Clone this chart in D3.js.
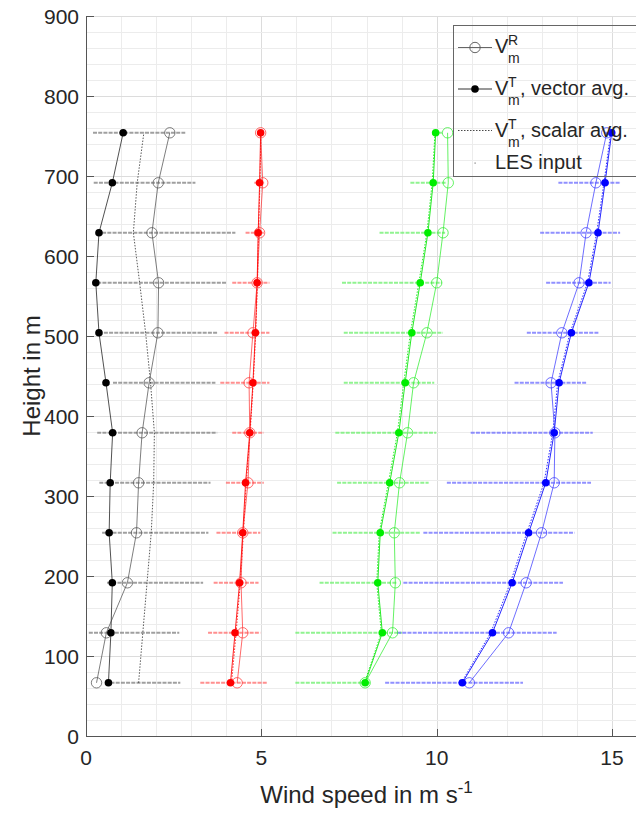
<!DOCTYPE html>
<html><head><meta charset="utf-8">
<script src="https://cdn.jsdelivr.net/npm/d3@7"></script>
<style>
body{margin:0;background:#fff}
svg{display:block}
text{font-family:"Liberation Sans",Arial,Helvetica,sans-serif;fill:#262626}
</style>
</head><body><svg id="c" width="636" height="813"></svg>
<script>
// ---------------- data ----------------
const heights = [66.5,129,191.5,254,316.5,379,441.5,504,566.5,629,691.5,754];
const xTicks = [0,5,10,15];
const yTicks = [0,100,200,300,400,500,600,700,800,900];

const blackVR     = [0.30,0.58,1.18,1.44,1.50,1.60,1.80,2.05,2.07,1.88,2.06,2.39];
const blackVT     = [0.64,0.71,0.75,0.66,0.69,0.76,0.57,0.37,0.28,0.37,0.75,1.06];
const blackScalar = [1.50,1.62,1.74,1.86,1.93,1.95,1.84,1.70,1.53,1.35,1.46,1.65];
const blackLesMin = [0.55,0.08,0.60,0.46,0.38,0.32,0.77,0.51,0.32,0.46,0.22,0.20];
const blackLesMax = [2.69,2.66,3.34,3.49,3.55,3.74,3.69,3.74,4.00,4.26,3.12,2.83];

const redVR     = [4.31,4.47,4.42,4.47,4.62,4.67,4.65,4.76,4.88,4.95,5.04,4.98];
const redVT     = [4.12,4.25,4.38,4.47,4.55,4.67,4.76,4.83,4.88,4.91,4.95,4.98];
const redScalar = [4.15,4.28,4.40,4.49,4.57,4.68,4.77,4.84,4.89,4.92,4.96,4.99];
const redLesMin = [3.26,3.48,3.64,3.72,3.99,4.17,3.83,3.95,4.17,4.55,4.80,4.92];
const redLesMax = [5.16,4.97,4.92,4.97,5.07,5.07,5.23,5.23,5.23,5.07,5.10,5.03];

const greenVR     = [7.96,8.74,8.82,8.79,8.94,9.17,9.34,9.72,10.00,10.18,10.33,10.31];
const greenVT     = [7.96,8.45,8.32,8.39,8.66,8.92,9.10,9.29,9.53,9.75,9.90,9.97];
const greenScalar = [7.94,8.42,8.29,8.36,8.62,8.88,9.06,9.25,9.49,9.72,9.87,9.95];
const greenLesMin = [5.97,5.97,6.66,7.03,7.16,7.11,7.35,7.35,7.30,8.37,9.25,9.91];
const greenLesMax = [8.10,9.01,8.87,9.53,9.77,9.99,9.93,10.18,10.15,10.24,10.29,10.15];

const blueVR     = [10.93,12.05,12.55,12.99,13.35,13.37,13.26,13.57,14.06,14.26,14.54,14.85];
const blueVT     = [10.73,11.59,12.15,12.62,13.11,13.35,13.49,13.84,14.34,14.60,14.80,14.99];
const blueScalar = [10.70,11.54,12.10,12.57,13.06,13.31,13.45,13.80,14.30,14.56,14.77,14.96];
const blueLesMin = [8.53,8.87,9.05,9.62,10.29,10.97,12.22,12.57,13.12,12.95,13.47,14.80];
const blueLesMax = [12.46,13.42,13.60,13.93,14.40,14.45,14.26,14.61,14.96,15.23,15.25,15.10];

// ---------------- setup ----------------
const svg = d3.select("#c");
const x = d3.scaleLinear().domain([0,16]).range([86, 86 + 16*35.07]);
const y = d3.scaleLinear().domain([0,900]).range([736,16]);

svg.append("rect").attr("width",636).attr("height",813).attr("fill","#fff");

// grid
const gGrid = svg.append("g");
gGrid.selectAll(".vx").data(d3.range(1,17)).enter().append("line")
  .attr("x1",d=>Math.round(x(d))+0.5).attr("x2",d=>Math.round(x(d))+0.5)
  .attr("y1",y(900)).attr("y2",y(0))
  .attr("stroke",d=>d%5===0?"#dcdcdc":"#ececec").attr("stroke-width",1);
gGrid.selectAll(".hy").data(d3.range(20,901,20)).enter().append("line")
  .attr("y1",d=>Math.round(y(d))+0.5).attr("y2",d=>Math.round(y(d))+0.5)
  .attr("x1",x(0)).attr("x2",x(16))
  .attr("stroke",d=>d%100===0?"#dcdcdc":"#ececec").attr("stroke-width",1);

const groups = [
  {vr:blackVR, vt:blackVT, sc:blackScalar, lo:blackLesMin, hi:blackLesMax,
   les:"#808080", rcol:"#555", tcol:"#333", dot:"#000", scol:"#333"},
  {vr:redVR, vt:redVT, sc:redScalar, lo:redLesMin, hi:redLesMax,
   les:"#ff6a6a", rcol:"#ff3b3b", tcol:"#ff0000", dot:"#ff0000", scol:"#ff0000"},
  {vr:greenVR, vt:greenVT, sc:greenScalar, lo:greenLesMin, hi:greenLesMax,
   les:"#6cf06c", rcol:"#33ee33", tcol:"#00e600", dot:"#00ee00", scol:"#00e600"},
  {vr:blueVR, vt:blueVT, sc:blueScalar, lo:blueLesMin, hi:blueLesMax,
   les:"#6b6bff", rcol:"#4040ff", tcol:"#0000ff", dot:"#0000ff", scol:"#0000ff"}
];

const gData = svg.append("g");
// LES input
groups.forEach(g=>{
  gData.append("g").selectAll("line").data(heights).enter().append("line")
    .attr("x1",(h,i)=>x(g.lo[i])).attr("x2",(h,i)=>x(g.hi[i]))
    .attr("y1",h=>y(h)).attr("y2",h=>y(h))
    .attr("stroke",g.les).attr("stroke-width",2)
    .attr("stroke-dasharray","4,1.2").attr("opacity",0.75);
});

const line = d3.line().x(d=>x(d[0])).y(d=>y(d[1]));
groups.forEach(g=>{
  const pr = heights.map((h,i)=>[g.vr[i],h]);
  const pt = heights.map((h,i)=>[g.vt[i],h]);
  const ps = heights.map((h,i)=>[g.sc[i],h]);
  gData.append("path").attr("d",line(ps)).attr("fill","none")
    .attr("stroke",g.scol).attr("stroke-width",0.9).attr("stroke-dasharray","1.5,1.5").attr("opacity",0.9);
  gData.append("path").attr("d",line(pr)).attr("fill","none")
    .attr("stroke",g.rcol).attr("stroke-width",0.9).attr("opacity",0.85);
  gData.append("path").attr("d",line(pt)).attr("fill","none")
    .attr("stroke",g.tcol).attr("stroke-width",1).attr("opacity",0.85);
  gData.append("g").selectAll("circle").data(pr).enter().append("circle")
    .attr("cx",d=>x(d[0])).attr("cy",d=>y(d[1])).attr("r",5.2)
    .attr("fill","none").attr("stroke",g.rcol).attr("stroke-width",0.9).attr("opacity",0.85);
  gData.append("g").selectAll("circle").data(pt).enter().append("circle")
    .attr("cx",d=>x(d[0])).attr("cy",d=>y(d[1])).attr("r",3.8)
    .attr("fill",g.dot);
});

// axes
const gAx = svg.append("g");
gAx.append("line").attr("x1",86.5).attr("x2",86.5).attr("y1",y(900)).attr("y2",y(0)+0.5)
  .attr("stroke","#555").attr("stroke-width",1);
gAx.append("line").attr("x1",86).attr("x2",x(16)).attr("y1",736.5).attr("y2",736.5)
  .attr("stroke","#555").attr("stroke-width",1);
gAx.selectAll(".yt").data(yTicks).enter().append("line")
  .attr("x1",86.5).attr("x2",94).attr("y1",d=>Math.round(y(d))+0.5).attr("y2",d=>Math.round(y(d))+0.5)
  .attr("stroke","#555");
gAx.selectAll(".xt").data(xTicks).enter().append("line")
  .attr("y1",736.5).attr("y2",729).attr("x1",d=>Math.round(x(d))+0.5).attr("x2",d=>Math.round(x(d))+0.5)
  .attr("stroke","#555");
gAx.selectAll(".yl").data(yTicks).enter().append("text")
  .attr("x",79).attr("y",d=>y(d)+7.5).attr("text-anchor","end")
  .attr("font-size",21).text(d=>d);
gAx.selectAll(".xl").data(xTicks).enter().append("text")
  .attr("x",d=>x(d)).attr("y",765).attr("text-anchor","middle")
  .attr("font-size",21).text(d=>d);

const xl = svg.append("text").attr("x",(x(0)+x(16))/2).attr("y",803)
  .attr("text-anchor","middle").attr("font-size",24);
xl.append("tspan").text("Wind speed in m s");
xl.append("tspan").attr("dy",-10).attr("font-size",17).text("-1");

svg.append("text").attr("transform",`translate(40,${(y(0)+y(900))/2}) rotate(-90)`)
  .attr("text-anchor","middle").attr("font-size",24).text("Height in m");

// legend (transparent)
const lg = svg.append("g");
lg.append("rect").attr("x",453.5).attr("y",25.5).attr("width",220).attr("height",151)
  .attr("fill","none").attr("stroke","#666").attr("stroke-width",1);
lg.append("line").attr("x1",458).attr("x2",492).attr("y1",47.5).attr("y2",47.5).attr("stroke","#555").attr("stroke-width",0.9);
lg.append("circle").attr("cx",475).attr("cy",47.5).attr("r",5.2).attr("fill","none").attr("stroke","#555").attr("stroke-width",0.9);
lg.append("line").attr("x1",458).attr("x2",492).attr("y1",89).attr("y2",89).attr("stroke","#333").attr("stroke-width",1);
lg.append("circle").attr("cx",475).attr("cy",89).attr("r",3.8).attr("fill","#000");
lg.append("line").attr("x1",458).attr("x2",492).attr("y1",130.5).attr("y2",130.5).attr("stroke","#333")
  .attr("stroke-width",0.9).attr("stroke-dasharray","1.5,1.5");
lg.append("rect").attr("x",474.5).attr("y",162.5).attr("width",1.2).attr("height",1.2).attr("fill","#777");

function vLabel(base, sup, rest){
  lg.append("text").attr("x",495).attr("y",base).attr("font-size",20).text("V");
  lg.append("text").attr("x",508).attr("y",base-8.5).attr("font-size",14).text(sup);
  lg.append("text").attr("x",508).attr("y",base+10).attr("font-size",14).text("m");
  if(rest) lg.append("text").attr("x",520).attr("y",base).attr("font-size",20).text(rest);
}
vLabel(53,"R",null);
vLabel(95,"T",", vector avg.");
vLabel(137,"T",", scalar avg.");
lg.append("text").attr("x",495).attr("y",169).attr("font-size",20).text("LES input");
</script>
</body></html>
